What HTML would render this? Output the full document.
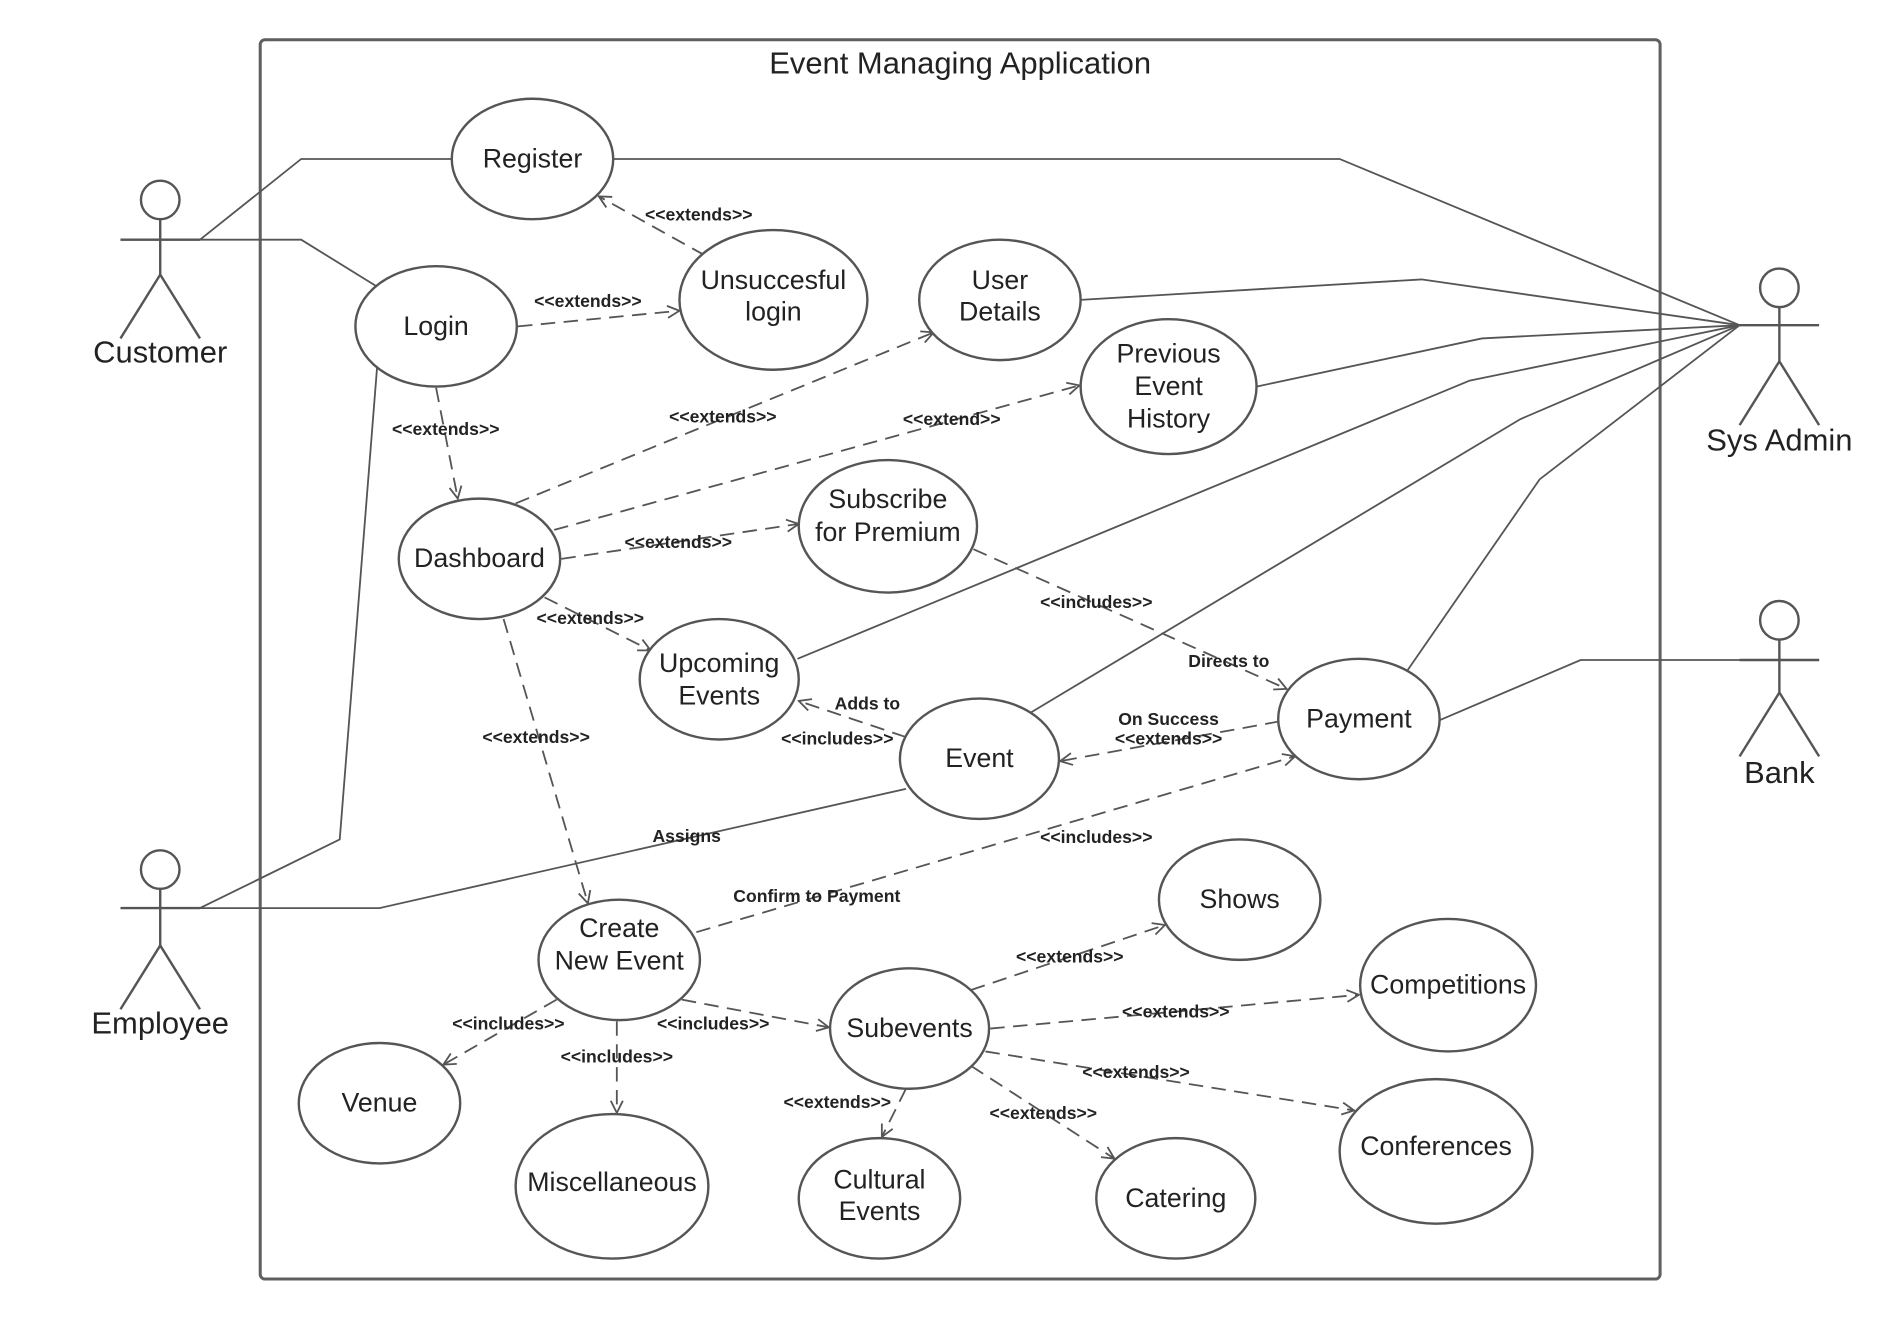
<!DOCTYPE html>
<html><head><meta charset="utf-8"><style>
html,body{margin:0;padding:0;background:#fff;}
svg{display:block;}
text{font-family:"Liberation Sans",sans-serif;fill:#222;}
.u text{font-size:22.2px;text-anchor:middle;}
.e{font-size:14.6px;font-weight:bold;text-anchor:middle;fill:#333;}
</style></head><body>
<svg width="1889" height="1320" viewBox="0 0 1568 1096" preserveAspectRatio="none" xmlns="http://www.w3.org/2000/svg">
<defs>
<marker id="a" viewBox="0 0 12 12" refX="11" refY="6" markerWidth="12" markerHeight="12" markerUnits="userSpaceOnUse" orient="auto">
<path d="M1,1 L11,6 L1,11" fill="none" stroke="#555" stroke-width="1.5"/></marker>
</defs>
<rect x="216" y="33" width="1162" height="1029" rx="4" fill="none" stroke="#5f5f5f" stroke-width="2.5"/>
<text x="797" y="61" font-size="25.7" text-anchor="middle" fill="#333">Event Managing Application</text>

<g fill="none" stroke="#555" stroke-width="1.5">
<polyline points="166,199 250,132 375,132"/>
<polyline points="100,199 250,199 313,238"/>
<polyline points="509,132 1112,132 1444,270"/>
<polyline points="897,249 1180,232 1444,270"/>
<polyline points="1043,321 1230,281 1444,270"/>
<polyline points="662,547 1220,316 1444,270"/>
<polyline points="855,592 1262,348 1444,270"/>
<polyline points="1168,557 1278,398 1444,270"/>
<polyline points="1195,598 1312,548 1510,548"/>
<polyline points="313,305 282,697 166,754"/>
<polyline points="166,754 315,754 752,655"/>
</g>

<g fill="none" stroke="#555" stroke-width="1.5" stroke-dasharray="12,7" marker-end="url(#a)">
<line x1="585" y1="212" x2="497" y2="163"/>
<line x1="430" y1="271" x2="564" y2="258"/>
<line x1="362" y1="322" x2="380" y2="414"/>
<line x1="428" y1="418" x2="775" y2="276"/>
<line x1="460" y1="440" x2="896" y2="320"/>
<line x1="466" y1="464" x2="663" y2="435"/>
<line x1="452" y1="496" x2="540" y2="540"/>
<line x1="418" y1="514" x2="488" y2="750"/>
<line x1="808" y1="456" x2="1068" y2="572"/>
<line x1="752" y1="612" x2="663" y2="582"/>
<line x1="1062" y1="599" x2="880" y2="632"/>
<line x1="578" y1="774" x2="1075" y2="628"/>
<line x1="806" y1="822" x2="967" y2="768"/>
<line x1="822" y1="854" x2="1128" y2="826"/>
<line x1="818" y1="873" x2="1124" y2="922"/>
<line x1="806" y1="885" x2="925" y2="962"/>
<line x1="752" y1="904" x2="732" y2="944"/>
<line x1="566" y1="830" x2="688" y2="853"/>
<line x1="512" y1="848" x2="512" y2="924"/>
<line x1="462" y1="830" x2="368" y2="884"/>
</g>

<g class="e">
<text x="580" y="183">&lt;&lt;extends&gt;&gt;</text>
<text x="488" y="255">&lt;&lt;extends&gt;&gt;</text>
<text x="370" y="361">&lt;&lt;extends&gt;&gt;</text>
<text x="600" y="351">&lt;&lt;extends&gt;&gt;</text>
<text x="790" y="353">&lt;&lt;extend&gt;&gt;</text>
<text x="563" y="455">&lt;&lt;extends&gt;&gt;</text>
<text x="490" y="518">&lt;&lt;extends&gt;&gt;</text>
<text x="445" y="617">&lt;&lt;extends&gt;&gt;</text>
<text x="910" y="505">&lt;&lt;includes&gt;&gt;</text>
<text x="1020" y="554">Directs to</text>
<text x="720" y="589">Adds to</text>
<text x="695" y="618">&lt;&lt;includes&gt;&gt;</text>
<text x="970" y="602">On Success</text>
<text x="970" y="618">&lt;&lt;extends&gt;&gt;</text>
<text x="570" y="699">Assigns</text>
<text x="678" y="749">Confirm to Payment</text>
<text x="910" y="700">&lt;&lt;includes&gt;&gt;</text>
<text x="888" y="799">&lt;&lt;extends&gt;&gt;</text>
<text x="976" y="845">&lt;&lt;extends&gt;&gt;</text>
<text x="943" y="895">&lt;&lt;extends&gt;&gt;</text>
<text x="866" y="929">&lt;&lt;extends&gt;&gt;</text>
<text x="695" y="920">&lt;&lt;extends&gt;&gt;</text>
<text x="592" y="855">&lt;&lt;includes&gt;&gt;</text>
<text x="512" y="882">&lt;&lt;includes&gt;&gt;</text>
<text x="422" y="855">&lt;&lt;includes&gt;&gt;</text>
</g>

<g class="u">
<g fill="#fff" stroke="#555" stroke-width="2">
<ellipse cx="442" cy="132" rx="67" ry="50"/>
<ellipse cx="642" cy="249" rx="78" ry="58"/>
<ellipse cx="362" cy="271" rx="67" ry="50"/>
<ellipse cx="830" cy="249" rx="67" ry="50"/>
<ellipse cx="970" cy="321" rx="73" ry="56"/>
<ellipse cx="398" cy="464" rx="67" ry="50"/>
<ellipse cx="737" cy="437" rx="74" ry="55"/>
<ellipse cx="597" cy="564" rx="66" ry="50"/>
<ellipse cx="813" cy="630" rx="66" ry="50"/>
<ellipse cx="1128" cy="597" rx="67" ry="50"/>
<ellipse cx="514" cy="797" rx="67" ry="50"/>
<ellipse cx="1029" cy="747" rx="67" ry="50"/>
<ellipse cx="1202" cy="818" rx="73" ry="55"/>
<ellipse cx="755" cy="854" rx="66" ry="50"/>
<ellipse cx="1192" cy="956" rx="80" ry="60"/>
<ellipse cx="315" cy="916" rx="67" ry="50"/>
<ellipse cx="508" cy="985" rx="80" ry="60"/>
<ellipse cx="730" cy="995" rx="67" ry="50"/>
<ellipse cx="976" cy="995" rx="66" ry="50"/>
</g>
<text x="442" y="139">Register</text>
<text x="642" y="240">Unsuccesful</text><text x="642" y="266">login</text>
<text x="362" y="278">Login</text>
<text x="830" y="240">User</text><text x="830" y="266">Details</text>
<text x="970" y="301">Previous</text><text x="970" y="328">Event</text><text x="970" y="355">History</text>
<text x="398" y="471">Dashboard</text>
<text x="737" y="422">Subscribe</text><text x="737" y="449">for Premium</text>
<text x="597" y="558">Upcoming</text><text x="597" y="585">Events</text>
<text x="813" y="637">Event</text>
<text x="1128" y="604">Payment</text>
<text x="514" y="778">Create</text><text x="514" y="805">New Event</text>
<text x="1029" y="754">Shows</text>
<text x="1202" y="825">Competitions</text>
<text x="755" y="861">Subevents</text>
<text x="1192" y="959">Conferences</text>
<text x="315" y="923">Venue</text>
<text x="508" y="989">Miscellaneous</text>
<text x="730" y="987">Cultural</text><text x="730" y="1013">Events</text>
<text x="976" y="1002">Catering</text>
</g>

<g fill="none" stroke="#555" stroke-width="2">
<circle cx="133" cy="166" r="16"/><line x1="133" y1="182" x2="133" y2="228"/><line x1="100" y1="199" x2="166" y2="199"/><polyline points="100,281 133,228 166,281"/>
<circle cx="1477" cy="239" r="16"/><line x1="1477" y1="255" x2="1477" y2="300"/><line x1="1444" y1="270" x2="1510" y2="270"/><polyline points="1444,353 1477,300 1510,353"/>
<circle cx="1477" cy="515" r="16"/><line x1="1477" y1="531" x2="1477" y2="575"/><line x1="1444" y1="548" x2="1510" y2="548"/><polyline points="1444,628 1477,575 1510,628"/>
<circle cx="133" cy="722" r="16"/><line x1="133" y1="738" x2="133" y2="785"/><line x1="100" y1="754" x2="166" y2="754"/><polyline points="100,838 133,785 166,838"/>
</g>
<g font-size="25.7" text-anchor="middle" fill="#333">
<text x="133" y="301">Customer</text>
<text x="1477" y="374">Sys Admin</text>
<text x="1477" y="650">Bank</text>
<text x="133" y="858">Employee</text>
</g>
</svg>
</body></html>
